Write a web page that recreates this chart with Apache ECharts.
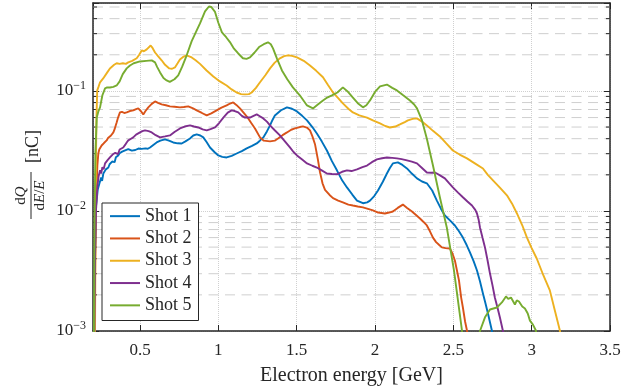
<!DOCTYPE html>
<html>
<head>
<meta charset="utf-8">
<script src="https://cdn.jsdelivr.net/npm/echarts@6/dist/echarts.min.js"></script>
<style>
html, body { margin: 0; padding: 0; background: #fff; }
#container { width: 644px; height: 388px; }
</style>
</head>
<body>
<div id="container"></div>
<script>
var dom = document.getElementById('container');
var myChart = echarts.init(dom, null, {renderer: 'canvas'});

var serif = 'Liberation Serif';
var ink = '#262626';
var colors = ['#0072BD', '#D95319', '#EDB120', '#7E2F8E', '#77AC30'];
var names = ['Shot 1', 'Shot 2', 'Shot 3', 'Shot 4', 'Shot 5'];

var xMin = 0.2, xMax = 3.5;
var yMin = 0.001, yMax = 0.54;
var minorTicks = [0.002, 0.003, 0.004, 0.005, 0.006, 0.007, 0.008, 0.009,
                  0.02, 0.03, 0.04, 0.05, 0.06, 0.07, 0.08, 0.09,
                  0.2, 0.3, 0.4, 0.5];

// [energy GeV, dQ/(dE/E) nC]
var shot1 = [[0.205,0.0006],[0.212,0.004],[0.22,0.011],[0.23,0.015],[0.24,0.0168],[0.245,0.0173],[0.252,0.019],[0.258,0.0178],[0.266,0.0205],[0.274,0.0198],[0.282,0.0222],[0.29,0.0215],[0.298,0.023],[0.306,0.0245],[0.314,0.0236],[0.322,0.0258],[0.33,0.0264],[0.338,0.0255],[0.346,0.028],[0.354,0.0272],[0.361,0.029],[0.37,0.0302],[0.378,0.0295],[0.386,0.0312],[0.393,0.0313],[0.405,0.032],[0.415,0.0315],[0.425,0.0328],[0.436,0.0325],[0.448,0.0318],[0.46,0.033],[0.47,0.0322],[0.479,0.0325],[0.49,0.0331],[0.5,0.0321],[0.51,0.0329],[0.521,0.0325],[0.535,0.0332],[0.55,0.033],[0.564,0.0338],[0.585,0.0355],[0.606,0.0372],[0.63,0.0385],[0.659,0.0395],[0.685,0.0385],[0.712,0.0372],[0.74,0.0366],[0.766,0.0365],[0.79,0.038],[0.819,0.0402],[0.84,0.0425],[0.862,0.0434],[0.885,0.0425],[0.904,0.041],[0.925,0.0375],[0.947,0.0338],[0.975,0.031],[1.0,0.029],[1.025,0.0282],[1.053,0.0279],[1.085,0.0288],[1.117,0.0301],[1.15,0.0315],[1.181,0.0332],[1.215,0.0348],[1.245,0.0365],[1.265,0.0385],[1.287,0.041],[1.31,0.046],[1.33,0.0516],[1.345,0.057],[1.361,0.0625],[1.4,0.069],[1.438,0.073],[1.47,0.071],[1.502,0.0675],[1.535,0.062],[1.566,0.0568],[1.6,0.05],[1.629,0.0442],[1.66,0.038],[1.693,0.0319],[1.725,0.026],[1.757,0.0218],[1.79,0.018],[1.821,0.0157],[1.855,0.0137],[1.885,0.0122],[1.923,0.0116],[1.95,0.0118],[1.968,0.0122],[1.995,0.0133],[2.019,0.0148],[2.05,0.0175],[2.076,0.0205],[2.095,0.0228],[2.114,0.0249],[2.146,0.0254],[2.175,0.0242],[2.204,0.0226],[2.235,0.0205],[2.268,0.0187],[2.3,0.0176],[2.331,0.017],[2.365,0.0148],[2.395,0.0122],[2.42,0.0105],[2.446,0.00917],[2.48,0.0083],[2.51,0.00757],[2.535,0.0068],[2.561,0.006],[2.585,0.0052],[2.606,0.00451],[2.63,0.0038],[2.651,0.00319],[2.67,0.0026],[2.689,0.00205],[2.705,0.0017],[2.721,0.0014],[2.746,0.00101],[2.76,0.0007]];

var shot2 = [[0.208,0.0006],[0.215,0.005],[0.222,0.015],[0.228,0.024],[0.234,0.0301],[0.24,0.0325],[0.248,0.0318],[0.255,0.0351],[0.262,0.034],[0.27,0.0368],[0.278,0.036],[0.287,0.0387],[0.296,0.0405],[0.305,0.0398],[0.315,0.0425],[0.322,0.044],[0.33,0.0451],[0.338,0.048],[0.345,0.0515],[0.351,0.0546],[0.36,0.06],[0.372,0.0662],[0.385,0.067],[0.4,0.0655],[0.415,0.0662],[0.435,0.068],[0.457,0.0688],[0.475,0.0705],[0.489,0.0715],[0.505,0.068],[0.521,0.0637],[0.535,0.068],[0.553,0.073],[0.575,0.078],[0.596,0.0818],[0.615,0.0795],[0.638,0.0772],[0.665,0.076],[0.691,0.0743],[0.72,0.0738],[0.755,0.073],[0.78,0.0735],[0.808,0.0743],[0.835,0.072],[0.862,0.0688],[0.895,0.0655],[0.926,0.0625],[0.955,0.065],[0.989,0.0688],[1.02,0.0725],[1.053,0.0757],[1.075,0.0785],[1.095,0.0802],[1.115,0.0765],[1.138,0.0715],[1.165,0.065],[1.191,0.059],[1.21,0.054],[1.234,0.0487],[1.266,0.041],[1.29,0.0385],[1.33,0.038],[1.36,0.0385],[1.381,0.0401],[1.41,0.0428],[1.438,0.0451],[1.465,0.0475],[1.489,0.0487],[1.52,0.05],[1.54,0.0506],[1.565,0.0495],[1.585,0.0469],[1.6,0.042],[1.617,0.036],[1.635,0.027],[1.649,0.021],[1.665,0.017],[1.681,0.015],[1.71,0.0136],[1.732,0.0128],[1.765,0.0122],[1.795,0.0118],[1.83,0.0113],[1.859,0.0111],[1.89,0.0109],[1.923,0.0107],[1.955,0.0104],[1.987,0.0101],[2.02,0.0097],[2.063,0.00953],[2.09,0.0097],[2.114,0.0099],[2.145,0.0106],[2.178,0.0113],[2.205,0.0106],[2.236,0.0099],[2.26,0.0093],[2.287,0.00866],[2.31,0.0081],[2.331,0.00757],[2.35,0.0068],[2.37,0.006],[2.39,0.0055],[2.41,0.0052],[2.427,0.00497],[2.45,0.0049],[2.478,0.00487],[2.495,0.0044],[2.51,0.00387],[2.525,0.0031],[2.536,0.00264],[2.55,0.0019],[2.561,0.00157],[2.575,0.0012],[2.587,0.00101],[2.6,0.0007]];

var shot3 = [[0.212,0.0006],[0.218,0.02],[0.222,0.06],[0.227,0.101],[0.235,0.108],[0.245,0.118],[0.255,0.121],[0.265,0.127],[0.277,0.13],[0.29,0.142],[0.308,0.154],[0.32,0.16],[0.335,0.165],[0.351,0.17],[0.37,0.168],[0.391,0.17],[0.41,0.168],[0.425,0.173],[0.45,0.178],[0.479,0.187],[0.495,0.2],[0.511,0.2175],[0.525,0.214],[0.543,0.222],[0.568,0.239],[0.58,0.228],[0.596,0.209],[0.615,0.195],[0.638,0.18],[0.66,0.165],[0.687,0.154],[0.705,0.153],[0.723,0.157],[0.74,0.17],[0.755,0.183],[0.775,0.192],[0.798,0.198],[0.83,0.19],[0.855,0.18],[0.883,0.168],[0.925,0.148],[0.968,0.132],[1.01,0.12],[1.053,0.111],[1.085,0.103],[1.117,0.097],[1.145,0.094],[1.17,0.0935],[1.195,0.094],[1.213,0.097],[1.24,0.106],[1.266,0.118],[1.3,0.135],[1.33,0.154],[1.36,0.172],[1.393,0.187],[1.42,0.195],[1.444,0.198],[1.47,0.196],[1.502,0.19],[1.545,0.178],[1.585,0.163],[1.625,0.147],[1.668,0.13],[1.7,0.112],[1.732,0.097],[1.765,0.087],[1.795,0.0787],[1.83,0.071],[1.859,0.0662],[1.9,0.0625],[1.949,0.06],[1.99,0.0565],[2.032,0.0536],[2.065,0.051],[2.095,0.0496],[2.13,0.0505],[2.159,0.0526],[2.19,0.055],[2.21,0.0568],[2.24,0.0585],[2.268,0.059],[2.3,0.0555],[2.331,0.0516],[2.37,0.0465],[2.414,0.0418],[2.455,0.0365],[2.497,0.0319],[2.54,0.0295],[2.587,0.0274],[2.64,0.0248],[2.689,0.0226],[2.72,0.02],[2.753,0.018],[2.8,0.0155],[2.842,0.0135],[2.875,0.0115],[2.906,0.00953],[2.94,0.0076],[2.97,0.006],[3.0,0.0049],[3.033,0.004],[3.075,0.0029],[3.116,0.00218],[3.148,0.00148],[3.18,0.00101],[3.2,0.0007]];

var shot4 = [[0.207,0.0006],[0.213,0.004],[0.22,0.011],[0.228,0.016],[0.236,0.0195],[0.245,0.0218],[0.252,0.0205],[0.26,0.0232],[0.268,0.0222],[0.277,0.0249],[0.285,0.024],[0.293,0.0265],[0.3,0.0258],[0.308,0.0279],[0.316,0.0272],[0.325,0.0295],[0.334,0.0288],[0.342,0.0305],[0.351,0.0307],[0.36,0.0298],[0.37,0.0325],[0.38,0.0318],[0.393,0.0338],[0.405,0.0355],[0.415,0.0372],[0.425,0.0387],[0.44,0.0398],[0.457,0.041],[0.475,0.0432],[0.5,0.0451],[0.515,0.0462],[0.532,0.0469],[0.555,0.0462],[0.575,0.0451],[0.6,0.0428],[0.628,0.041],[0.66,0.0418],[0.691,0.0426],[0.72,0.0455],[0.755,0.0487],[0.785,0.0505],[0.819,0.0516],[0.845,0.0505],[0.872,0.0496],[0.9,0.0478],[0.926,0.0469],[0.95,0.048],[0.979,0.0496],[1.005,0.054],[1.032,0.06],[1.06,0.066],[1.085,0.0688],[1.105,0.068],[1.127,0.0662],[1.15,0.062],[1.17,0.06],[1.202,0.06],[1.225,0.062],[1.245,0.0637],[1.265,0.0615],[1.287,0.059],[1.31,0.0555],[1.33,0.0516],[1.36,0.047],[1.393,0.0426],[1.425,0.038],[1.457,0.0338],[1.48,0.031],[1.502,0.029],[1.535,0.0268],[1.566,0.0249],[1.6,0.0238],[1.629,0.023],[1.66,0.0218],[1.693,0.0205],[1.725,0.0203],[1.757,0.0202],[1.79,0.0212],[1.821,0.0218],[1.85,0.0215],[1.885,0.0222],[1.92,0.0232],[1.949,0.0239],[1.98,0.0255],[2.012,0.0269],[2.045,0.0275],[2.076,0.0279],[2.11,0.0277],[2.14,0.0274],[2.17,0.027],[2.204,0.0264],[2.235,0.0258],[2.268,0.0249],[2.3,0.0228],[2.331,0.0209],[2.36,0.0208],[2.383,0.0209],[2.415,0.0198],[2.446,0.0187],[2.47,0.0172],[2.497,0.0157],[2.53,0.0142],[2.561,0.013],[2.59,0.012],[2.619,0.0111],[2.64,0.0102],[2.651,0.00953],[2.662,0.0084],[2.67,0.00729],[2.686,0.006],[2.702,0.00497],[2.718,0.0039],[2.734,0.00301],[2.75,0.0024],[2.765,0.0019],[2.78,0.0016],[2.797,0.0013],[2.816,0.00101],[2.83,0.0007]];

var shot5 = [[0.205,0.0006],[0.21,0.008],[0.215,0.03],[0.224,0.06],[0.235,0.068],[0.245,0.073],[0.26,0.092],[0.277,0.105],[0.29,0.107],[0.308,0.1069],[0.33,0.108],[0.351,0.111],[0.37,0.12],[0.39,0.138],[0.415,0.154],[0.436,0.163],[0.46,0.17],[0.5,0.176],[0.54,0.178],[0.575,0.1796],[0.596,0.173],[0.61,0.158],[0.628,0.1426],[0.65,0.128],[0.67,0.1223],[0.69,0.119],[0.702,0.12],[0.72,0.125],[0.744,0.1346],[0.77,0.16],[0.798,0.198],[0.83,0.26],[0.862,0.319],[0.883,0.365],[0.915,0.46],[0.94,0.505],[0.955,0.5],[0.979,0.455],[1.0,0.37],[1.023,0.307],[1.05,0.28],[1.074,0.255],[1.1,0.225],[1.127,0.205],[1.157,0.187],[1.18,0.185],[1.202,0.19],[1.23,0.208],[1.26,0.232],[1.29,0.245],[1.317,0.254],[1.335,0.245],[1.349,0.226],[1.375,0.185],[1.406,0.148],[1.44,0.125],[1.476,0.107],[1.52,0.092],[1.566,0.0757],[1.604,0.0715],[1.635,0.077],[1.668,0.0833],[1.695,0.088],[1.725,0.0917],[1.76,0.097],[1.795,0.107],[1.825,0.099],[1.859,0.088],[1.89,0.079],[1.923,0.073],[1.945,0.076],[1.968,0.0833],[2.0,0.098],[2.032,0.109],[2.076,0.113],[2.11,0.106],[2.14,0.101],[2.18,0.092],[2.223,0.0833],[2.25,0.077],[2.268,0.0715],[2.3,0.0568],[2.331,0.04],[2.37,0.0239],[2.414,0.013],[2.459,0.0072],[2.504,0.0032],[2.555,0.00101],[2.58,0.0006],[2.657,0.0006],[2.67,0.001],[2.702,0.0013],[2.734,0.00151],[2.778,0.00157],[2.81,0.00173],[2.836,0.00194],[2.85,0.00185],[2.868,0.0019],[2.893,0.00166],[2.905,0.0018],[2.919,0.00176],[2.94,0.0016],[2.957,0.00154],[2.975,0.0014],[2.989,0.00122],[3.008,0.00113],[3.027,0.00101],[3.05,0.0006]];

var shots = [shot1, shot2, shot3, shot4, shot5];

function xLabel(v) {
    return Math.abs(v * 2 - Math.round(v * 2)) < 1e-9 ? String(v) : '';
}
function yLabel(v) {
    var e = Math.round(Math.log10(v));
    if (Math.abs(v / Math.pow(10, e) - 1) > 1e-6) return '';
    return '{b|10}{e|\u2212' + (-e) + '}';
}

var axisLine = {show: true, onZero: false, lineStyle: {color: ink, width: 1.5}};
var tick = {show: true, inside: true, length: 6, lineStyle: {color: ink, width: 1}};

var lineSeries = shots.map(function (d, i) {
    return {
        name: names[i],
        type: 'line',
        data: d,
        symbol: 'none',
        showSymbol: false,
        z: 3,
        clip: true,
        lineStyle: {color: colors[i], width: 1.9},
        itemStyle: {color: colors[i]}
    };
});

option = {
    animation: false,
    backgroundColor: '#fff',
    grid: {left: 93, right: 34, top: 3, bottom: 57, show: false, outerBoundsMode: 'none', containLabel: false},
    legend: {
        data: names,
        orient: 'vertical',
        left: 102,
        top: 203,
        icon: 'rect',
        itemWidth: 30,
        itemHeight: 2,
        itemGap: 4,
        padding: [4, 7, 6, 8],
        backgroundColor: '#fff',
        borderColor: ink,
        borderWidth: 1,
        textStyle: {fontFamily: serif, fontSize: 18, color: ink, lineHeight: 18.3}
    },
    xAxis: [
        {
            type: 'value', min: xMin, max: xMax, splitNumber: 7, position: 'bottom',
            axisLine: axisLine, axisTick: tick,
            axisLabel: {formatter: xLabel, margin: 11, fontFamily: serif, fontSize: 17, color: ink},
            splitLine: {show: true, lineStyle: {type: 'dotted', color: '#d0d0d0', width: 1}},
            name: 'Electron energy [GeV]', nameLocation: 'middle', nameGap: 35,
            nameTextStyle: {fontFamily: serif, fontSize: 20, color: ink}
        },
        {
            type: 'value', min: xMin, max: xMax, splitNumber: 7, position: 'top',
            axisLine: axisLine, axisTick: tick, axisLabel: {show: false}, splitLine: {show: false}
        }
    ],
    yAxis: [
        {
            type: 'log', logBase: 10, min: yMin, max: yMax, position: 'left',
            axisLine: axisLine, axisTick: tick,
            axisLabel: {
                formatter: yLabel, margin: 7, color: ink,
                rich: {
                    b: {fontFamily: serif, fontSize: 17, color: ink, lineHeight: 22},
                    e: {fontFamily: serif, fontSize: 12, color: ink, verticalAlign: 'top', lineHeight: 12}
                }
            },
            splitLine: {show: true, lineStyle: {type: 'dotted', color: '#d0d0d0', width: 1}}
        },
        {
            type: 'log', logBase: 10, min: yMin, max: yMax, position: 'right',
            axisLine: axisLine, axisTick: tick, axisLabel: {show: false}, splitLine: {show: false}
        }
    ],
    graphic: [{
        type: 'group', x: 31, y: 219, rotation: Math.PI / 2,
        children: [
            {type: 'line', shape: {x1: 0, y1: 0, x2: 47, y2: 0}, style: {stroke: ink, lineWidth: 1}},
            {type: 'text', x: 23.5, y: -2, style: {
                text: '{r|d}{i|Q}', align: 'center', verticalAlign: 'bottom',
                rich: {r: {fontFamily: serif, fontSize: 15, fill: ink}, i: {fontFamily: serif, fontStyle: 'italic', fontSize: 15, fill: ink}}
            }},
            {type: 'text', x: 23.5, y: 2, style: {
                text: '{r|d}{i|E}{r|/}{i|E}', align: 'center', verticalAlign: 'top',
                rich: {r: {fontFamily: serif, fontSize: 15, fill: ink}, i: {fontFamily: serif, fontStyle: 'italic', fontSize: 15, fill: ink}}
            }},
            {type: 'text', x: 56, y: 2, style: {
                text: '[nC]', align: 'left', verticalAlign: 'middle',
                fontFamily: serif, fontSize: 18, fill: ink
            }}
        ]
    }],
    series: [{
        type: 'custom',
        name: 'minor',
        silent: true,
        z: 1,
        clip: false,
        encode: {x: 0, y: 1},
        data: minorTicks.map(function (v) { return [xMin, v]; }),
        renderItem: function (params, api) {
            var a = api.coord([xMin, api.value(1)]);
            var b = api.coord([xMax, api.value(1)]);
            return {
                type: 'group',
                children: [
                    {type: 'line', shape: {x1: a[0], y1: a[1], x2: b[0], y2: b[1]},
                     style: {stroke: '#cfcfcf', lineWidth: 1, lineDash: [10, 6.5]}},
                    {type: 'line', shape: {x1: a[0], y1: a[1], x2: a[0] + 4, y2: a[1]},
                     style: {stroke: ink, lineWidth: 1}},
                    {type: 'line', shape: {x1: b[0] - 4, y1: b[1], x2: b[0], y2: b[1]},
                     style: {stroke: ink, lineWidth: 1}}
                ]
            };
        }
    }].concat(lineSeries)
};

if (option && typeof option === 'object') {
    myChart.setOption(option);
}
</script>
</body>
</html>
